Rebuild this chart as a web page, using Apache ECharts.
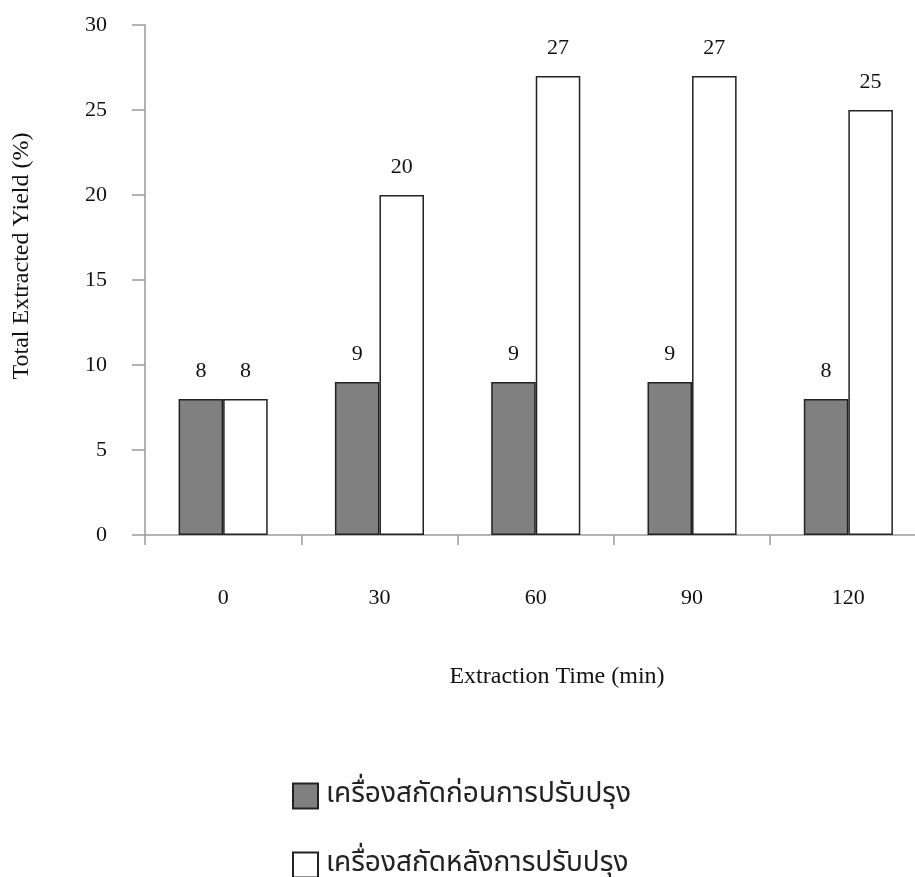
<!DOCTYPE html>
<html>
<head>
<meta charset="utf-8">
<script src="https://cdn.jsdelivr.net/npm/echarts@6/dist/echarts.min.js"></script>
<style>
  html, body { margin: 0; padding: 0; background: #fff; }
  #chart { width: 915px; height: 877px; }
</style>
</head>
<body>
<div id="chart"></div>
<script>
// Extraction times (min) on the category axis
const times = ['0', '30', '60', '90', '120'];
// Yield (%) for the extractor before and after modification
const beforeYield = [8, 9, 9, 9, 8];
const afterYield = [8, 20, 27, 27, 25];
const seriesNames = ['เครื่องสกัดก่อนการปรับปรุง', 'เครื่องสกัดหลังการปรับปรุง'];

const serif = '"Liberation Serif", "Times New Roman", serif';
const thai = '"Noto Sans Thai", "Tahoma", "Noto Sans", "DejaVu Sans", sans-serif';
const axisGray = '#9a9a9a';

const chart = echarts.init(document.getElementById('chart'), null, { renderer: 'canvas' });

const labelStyle = {
  show: true,
  position: 'top',
  distance: 17,
  color: '#111',
  fontFamily: serif,
  fontSize: 22
};

// one legend block per series so the two entries stack exactly
function legendEntry(name, top) {
  return {
    orient: 'horizontal',
    left: 292,
    top: top,
    padding: 0,
    itemWidth: 25,
    itemHeight: 25,
    itemGap: 10,
    icon: 'rect',
    selectedMode: false,
    textStyle: { fontFamily: thai, fontSize: 28, color: '#222', lineHeight: 30, padding: [0, 0, 0, 3] },
    data: [name]
  };
}

chart.setOption({
  animation: false,
  backgroundColor: '#fff',
  grid: { left: 145, top: 25, width: 781.5, bottom: 342, containLabel: false, outerBoundsMode: 'none' },
  xAxis: {
    type: 'category',
    data: times,
    axisLine: { lineStyle: { color: axisGray, width: 1.5 } },
    axisTick: { show: true, length: 10, alignWithLabel: false, lineStyle: { color: axisGray, width: 1.5 } },
    axisLabel: { margin: 52, color: '#111', fontFamily: serif, fontSize: 22 }
  },
  yAxis: {
    type: 'value',
    min: 0,
    max: 30,
    interval: 5,
    splitLine: { show: false },
    axisLine: { show: true, lineStyle: { color: axisGray, width: 1.5 } },
    axisTick: { show: true, length: 13, lineStyle: { color: axisGray, width: 1.5 } },
    axisLabel: { margin: 38, color: '#111', fontFamily: serif, fontSize: 22 }
  },
  legend: [
    legendEntry(seriesNames[0], 781),
    legendEntry(seriesNames[1], 850)
  ],
  graphic: [
    {
      type: 'text',
      x: 557,
      y: 677,
      style: { text: 'Extraction Time (min)', fontFamily: serif, fontSize: 24, fill: '#111', textAlign: 'center', textVerticalAlign: 'middle' }
    },
    {
      type: 'text',
      x: 22,
      y: 256,
      rotation: Math.PI / 2,
      style: { text: 'Total Extracted Yield (%)', fontFamily: serif, fontSize: 24, fill: '#111', textAlign: 'center', textVerticalAlign: 'middle' }
    }
  ],
  series: [
    {
      name: seriesNames[0],
      type: 'bar',
      data: beforeYield,
      barGap: '0%',
      barCategoryGap: '43%',
      itemStyle: { color: '#808080', borderColor: '#222', borderWidth: 1.5 },
      label: labelStyle
    },
    {
      name: seriesNames[1],
      type: 'bar',
      data: afterYield,
      barGap: '0%',
      barCategoryGap: '43%',
      itemStyle: { color: '#ffffff', borderColor: '#222', borderWidth: 1.5 },
      label: labelStyle
    }
  ]
});
</script>
</body>
</html>
